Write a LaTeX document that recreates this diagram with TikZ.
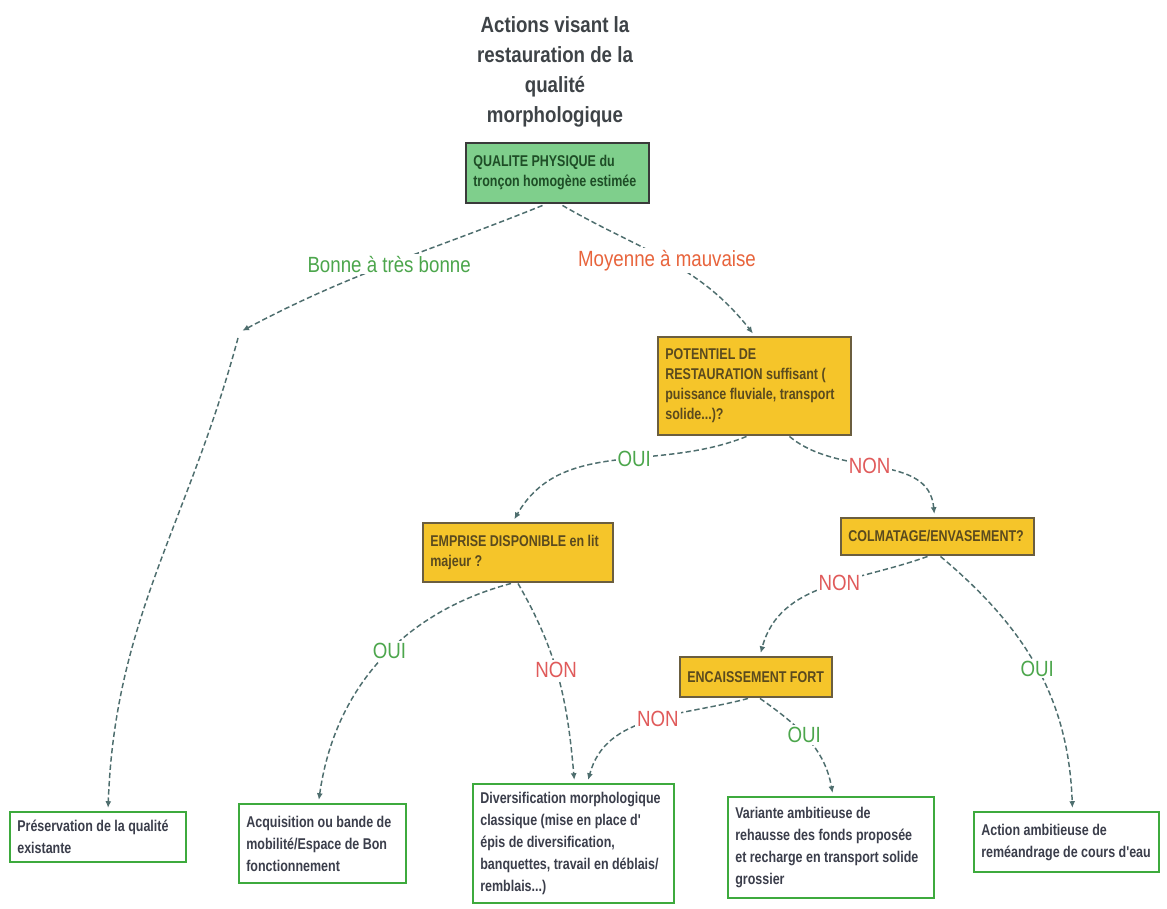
\documentclass[tikz,border=0pt]{standalone}
\usepackage{fontspec}
\setmainfont[FakeStretch=0.85]{Liberation Sans}
\newfontfamily\boxfont[FakeStretch=0.8]{Liberation Sans}
\usetikzlibrary{arrows.meta}

\definecolor{titlecol}{HTML}{3E4347}
\definecolor{qfill}{HTML}{7FCF8C}
\definecolor{qborder}{HTML}{3A3A3A}
\definecolor{qtext}{HTML}{1E4D26}
\definecolor{yfill}{HTML}{F5C52A}
\definecolor{yborder}{HTML}{6B5E3F}
\definecolor{ytext}{HTML}{5A4A1E}
\definecolor{rborder}{HTML}{3DAA3D}
\definecolor{rtext}{HTML}{3B3E4B}
\definecolor{conncol}{HTML}{4E6E6E}
\definecolor{yescol}{HTML}{4CA64C}
\definecolor{nocol}{HTML}{E05A5A}
\definecolor{moycol}{HTML}{E8643C}

\begin{document}
\begin{tikzpicture}[x=0.75pt,y=-0.75pt,
  box/.style={draw, line width=2.2pt, inner xsep=5.5pt, inner ysep=0pt,
    align=flush left, font=\boxfont\bfseries\fontsize{11.7}{15}\selectfont},
  qbox/.style={box, fill=qfill, draw=qborder, text=qtext},
  ybox/.style={box, fill=yfill, draw=yborder, text=ytext},
  rbox/.style={box, fill=white, draw=rborder, text=rtext,
    font=\boxfont\bfseries\fontsize{11.7}{16.5}\selectfont},
  conn/.style={draw=conncol, line width=1.1pt, dash pattern=on 4pt off 2.2pt,
    shorten >=2pt, -{Latex[length=5pt,width=4.5pt]}},
  lab/.style={fill=white, inner sep=1.5pt, font=\fontsize{16.5}{18}\selectfont},
  yes/.style={lab, text=yescol},
  no/.style={lab, text=nocol},
  moy/.style={lab, text=moycol},
  titlestyle/.style={align=center, text=titlecol,
    font=\bfseries\fontsize{16.5}{22.5}\selectfont}
]
\useasboundingbox[fill=white] (0,0) rectangle (1167,909);

% title
\node[titlestyle] (title) at (555,72)
  {Actions visant la\\restauration de la\\qualité\\morphologique};

% decision boxes
\node[qbox, text width=126.25pt, minimum height=45pt] (qp) at (557.5,173)
  {QUALITE PHYSIQUE du\\tronçon homogène estimée};
\node[ybox, text width=133.75pt, minimum height=73.5pt] (pot) at (754.5,386)
  {POTENTIEL DE\\RESTAURATION suffisant (\\puissance fluviale, transport\\solide...)?};
\node[ybox, text width=131.5pt, minimum height=44.25pt] (emp) at (518,552.5)
  {EMPRISE DISPONIBLE en lit\\majeur ?};
\node[ybox, text width=133.75pt, minimum height=27.75pt] (colm) at (937.5,536.5)
  {COLMATAGE/ENVASEMENT?};
\node[ybox, text width=103pt, minimum height=30pt] (enc) at (756,677)
  {ENCAISSEMENT FORT};

% result boxes
\node[rbox, text width=121pt, minimum height=37.5pt] (pres) at (98,837)
  {Préservation de la qualité\\existante};
\node[rbox, text width=114.25pt, minimum height=59.25pt] (acq) at (322.5,843.5)
  {Acquisition ou bande de\\mobilité/Espace de Bon\\fonctionnement};
\node[rbox, text width=139.75pt, minimum height=89.25pt] (div) at (573.5,843.5)
  {Diversification morphologique\\classique (mise en place d'\\épis de diversification,\\banquettes, travail en déblais/\\remblais...)};
\node[rbox, text width=143.5pt, minimum height=75.75pt] (var) at (831,847.5)
  {Variante ambitieuse de\\rehausse des fonds proposée\\et recharge en transport solide\\grossier};
\node[rbox, text width=127.75pt, minimum height=45pt] (act) at (1066.5,842)
  {Action ambitieuse de\\reméandrage de cours d'eau};

% connectors
\coordinate (c1) at (240,332);
\draw[conn] ([shift={(-15,1)}]qp.south) to[out=202,in=28]
  node[yes, pos=0.5] (bonne) {Bonne à très bonne} (c1);
\draw[conn] ([shift={(-2,6)}]c1) to[out=255,in=88] ([shift={(10,0)}]pres.north);
\draw[conn] ([shift={(5,1)}]qp.south) to[out=-30,in=128]
  node[moy, pos=0.5] (moyl) {Moyenne à mauvaise} (pot.north);

\draw[conn] ([shift={(-8,0)}]pot.south) to[out=202,in=60]
  node[yes, pos=0.42] (oui1) {OUI} ([shift={(-5,0)}]emp.north);
\draw[conn] ([shift={(35,0)}]pot.south) to[out=-40,in=95]
  node[no, pos=0.45] (non1) {NON} ([shift={(-3,0)}]colm.north);

\draw[conn] ([shift={(-10,0)}]colm.south) to[out=200,in=75]
  node[no, pos=0.42] (non2) {NON} ([shift={(4,0)}]enc.north);
\draw[conn] ([shift={(3,0)}]colm.south) to[out=-40,in=92]
  node[yes, pos=0.5] (oui2) {OUI} ([shift={(6,0)}]act.north);

\draw[conn] ([shift={(-7,0)}]emp.south) to[out=195,in=82]
  node[yes, pos=0.45] (oui3) {OUI} ([shift={(-4,0)}]acq.north);
\draw[conn] (emp.south) to[out=-60,in=95]
  node[no, pos=0.45] (non3) {NON} ([shift={(1,0)}]div.north);

\draw[conn] ([shift={(-8,0)}]enc.south) to[out=195,in=75]
  node[no, pos=0.45] (non4) {NON} ([shift={(14,0)}]div.north);
\draw[conn] ([shift={(4,0)}]enc.south) to[out=-35,in=100]
  node[yes, pos=0.45] (oui4) {OUI} ([shift={(2,0)}]var.north);
\end{tikzpicture}
\end{document}
